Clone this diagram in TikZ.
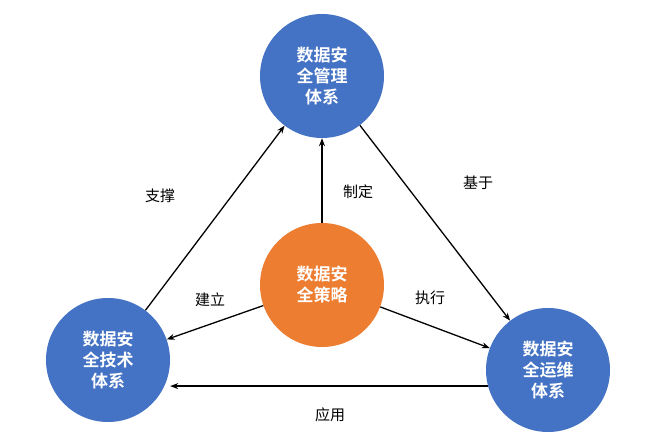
\documentclass[tikz,border=0pt]{standalone}
\usepackage{fontspec}
\setmainfont{Noto Sans CJK SC}
\newfontfamily\cjkb{Noto Sans CJK SC Bold}
\usetikzlibrary{arrows.meta}
\definecolor{cblue}{HTML}{4472C4}
\definecolor{corange}{HTML}{ED7D31}
\begin{document}
\begin{tikzpicture}[x=1pt,y=-1pt,
  circ/.style={circle,minimum size=124pt,inner sep=0pt,text=white,font=\cjkb\fontsize{17}{21}\selectfont,align=center},
  arr/.style={-{Stealth[length=8pt,width=6pt]},line width=1.3pt,black},
  lab/.style={font=\fontsize{15}{18}\selectfont}]
\path[use as bounding box,fill=white] (0,0) rectangle (656,443);
\node[circ,fill=cblue] (top) at (322,76) {数据安\\全管理\\体系};
\node[circ,fill=cblue] (left) at (108,360) {数据安\\全技术\\体系};
\node[circ,fill=cblue] (right) at (548,370) {数据安\\全运维\\体系};
\node[circ,fill=corange] (mid) at (322,285) {数据安\\全策略};
\draw[arr] (left) -- (top);
\draw[arr] (top) -- (right);
\draw[arr] (mid) -- (top);
\draw[arr] (mid) -- (left);
\draw[arr] (mid) -- (right);
\draw[arr] (right.195) -- (right.195 -| left.east);
\node[lab] (l1) at (160,196) {支撑};
\node[lab] (l2) at (358,192) {制定};
\node[lab] (l3) at (478,183) {基于};
\node[lab] (l4) at (210,300) {建立};
\node[lab] (l5) at (430,298) {执行};
\node[lab] (l6) at (330,415) {应用};
\end{tikzpicture}
\end{document}
